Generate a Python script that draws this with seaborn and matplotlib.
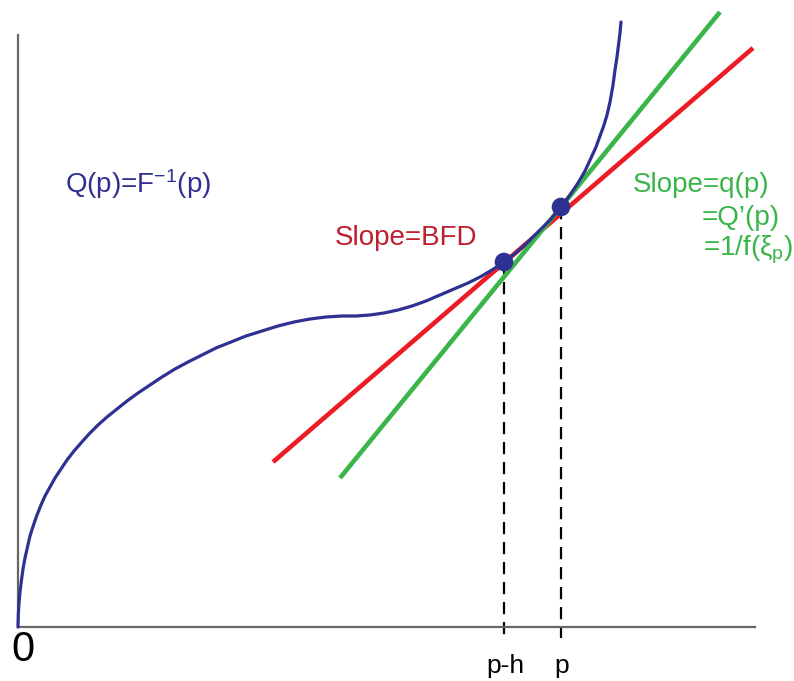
import matplotlib
matplotlib.use("Agg")
import matplotlib.pyplot as plt
import seaborn as sns
import pandas as pd

# ---- data (arbitrary units) ----
curve_x = [0, 0.3, 1, 2, 3.5, 5, 7, 9.5, 12, 15.5, 19, 23, 27, 32, 37, 43, 49, 56,
           63, 71, 80, 89, 99, 109, 120, 132, 144, 157, 170, 184, 198, 213, 228,
           244, 260, 276, 292, 308, 324, 338, 352, 366, 380, 394, 408, 422, 436,
           450, 462, 474, 486, 498, 510, 522, 533, 543, 552, 560, 567, 573, 578,
           582, 586, 589, 592, 595, 597, 599, 600.5, 602, 603]
curve_y = [0, 12, 24, 35, 47, 58, 69, 80, 91, 102, 112, 122, 131, 140, 149, 158,
           167, 176, 184, 193, 202, 210, 218, 226, 234, 242, 250, 258, 265, 272,
           279, 285, 291, 296, 301, 305, 308, 310, 311, 311, 312, 314, 317, 321,
           326, 332, 338, 344, 350, 357, 365, 374, 385, 397, 408, 420, 432, 444,
           456, 469, 480, 491, 502, 512, 525, 542, 557, 570, 582, 594, 605]
point_x = [486, 543]
point_y = [365, 420]
point_labels = ["p-h", "p"]
secant_x = [255, 735]
secant_y = [165, 579]
tangent_x = [322, 702]
tangent_y = [149, 615]

BLUE = "#2e3192"
RED_LINE = "#ed1c24"
RED_TEXT = "#be1e2d"
GREEN = "#39b54a"
GRAY = "#666666"

sns.set_theme(style="white")
plt.rcParams["font.family"] = ["Liberation Sans", "DejaVu Sans"]
plt.rcParams["mathtext.fontset"] = "custom"
plt.rcParams["mathtext.rm"] = "Liberation Sans"
plt.rcParams["mathtext.it"] = "Liberation Sans:italic"

fig = plt.figure(figsize=(7.94, 6.81), dpi=100)
ax = fig.add_axes([18 / 794, 54 / 681, 737 / 794, 622 / 681])

curve = pd.DataFrame({"x": curve_x, "y": curve_y})
sns.lineplot(data=curve, x="x", y="y", sort=False, color=BLUE, lw=2.3, ax=ax,
             clip_on=False, zorder=3)
sns.lineplot(x=secant_x, y=secant_y, color=RED_LINE, lw=3.3, ax=ax,
             solid_capstyle="butt", zorder=2)
sns.lineplot(x=tangent_x, y=tangent_y, color=GREEN, lw=3.3, ax=ax,
             solid_capstyle="butt", clip_on=False, zorder=2)

for px, py in zip(point_x, point_y):
    ax.plot([px, px], [py, -11], ls=(0, (5.5, 3.5)), color="black", lw=1.6,
            clip_on=False, zorder=1)

sns.scatterplot(x=point_x, y=point_y, color=BLUE, s=180, edgecolor="none",
                ax=ax, zorder=4)

ax.set_xlim(0, 737)
ax.set_ylim(0, 622)
ax.set_xticks([])
ax.set_yticks([])
ax.set_xlabel("")
ax.set_ylabel("")
for s in ["top", "right"]:
    ax.spines[s].set_visible(False)
for s in ["left", "bottom"]:
    ax.spines[s].set_color(GRAY)
    ax.spines[s].set_linewidth(1.6)
ax.spines["left"].set_bounds(0, 592)
ax.spines["bottom"].set_bounds(0, 737)

# labels
ax.text(4.5, -23, "0", fontsize=30, ha="center", va="center", color="black",
        clip_on=False)
for px, lab in zip(point_x, point_labels):
    ax.text(px + 1, -46, lab, fontsize=19, ha="center", va="baseline",
            color="black", clip_on=False)

ax.text(47, 434, r"Q(p)=F$^{\mathregular{-1}}$(p)", fontsize=20, color=BLUE,
        va="baseline", ha="left")
ax.text(317, 382, "Slope=BFD", fontsize=20, color=RED_TEXT, va="baseline",
        ha="left")
ax.text(615, 435, "Slope=q(p)", fontsize=20, color=GREEN, va="baseline",
        ha="left", clip_on=False)
ax.text(684, 402, "=Q\u2019(p)", fontsize=20, color=GREEN, va="baseline",
        ha="left", clip_on=False)
ax.text(685, 372, r"=1/f(ξ$_{\mathregular{p}}$)", fontsize=20, color=GREEN,
        va="baseline", ha="left", clip_on=False)

fig.savefig("out.png", dpi=100)
